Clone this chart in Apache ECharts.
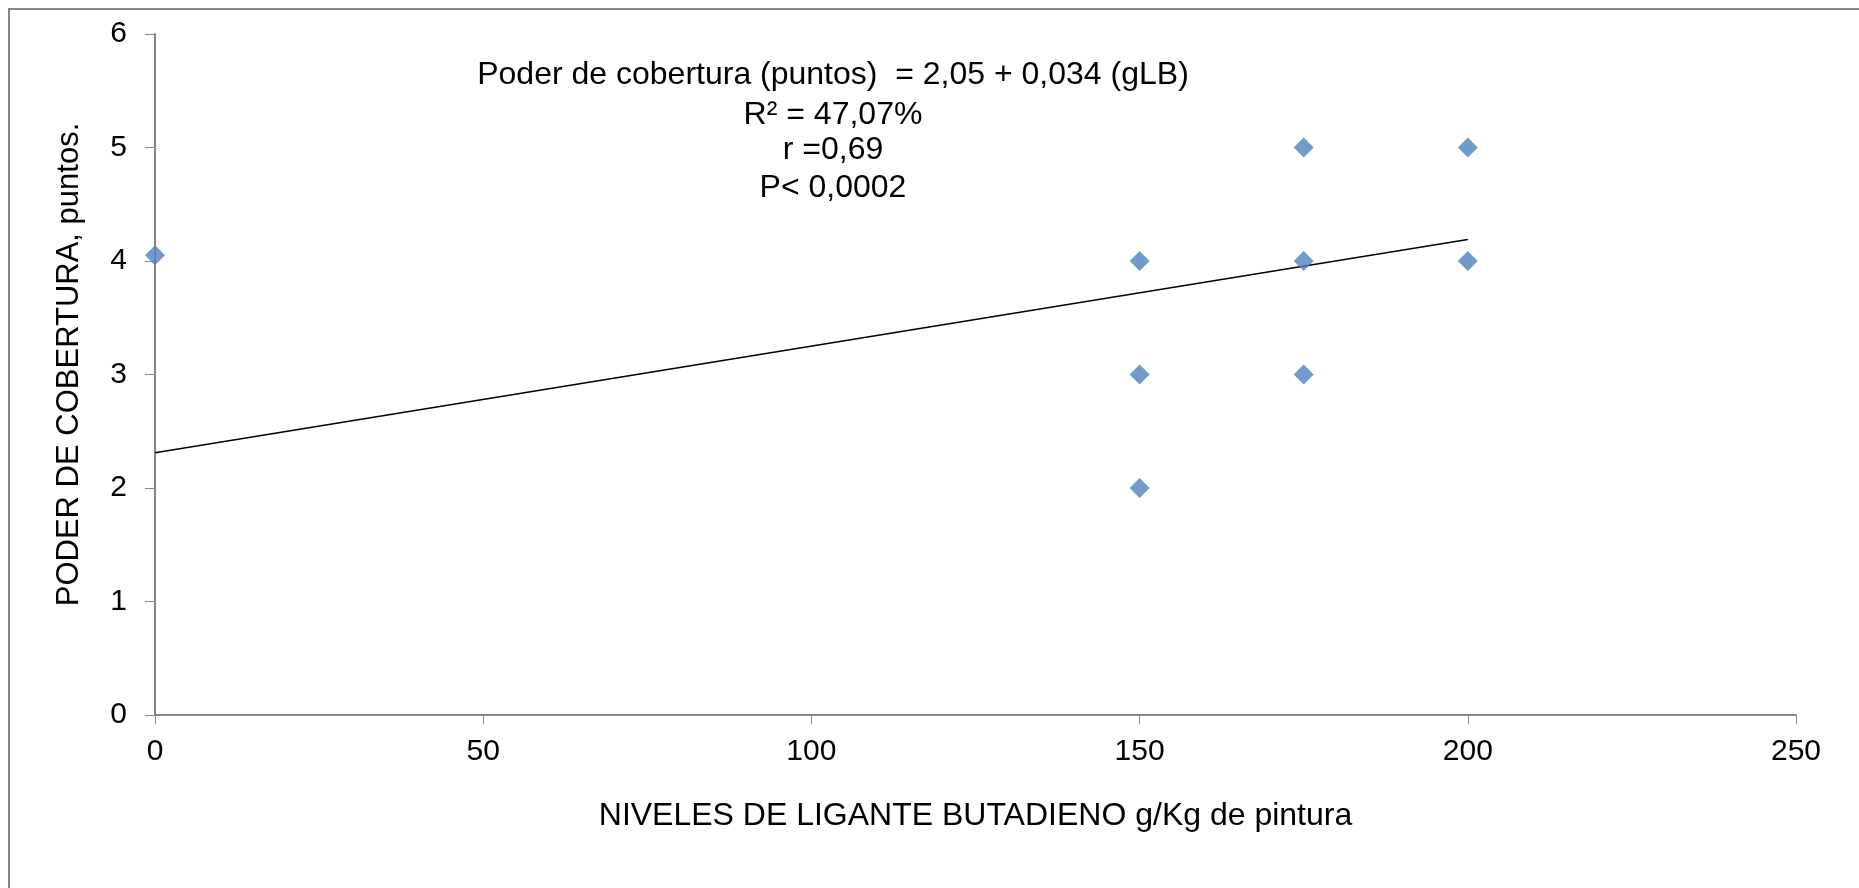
<!DOCTYPE html>
<html>
<head>
<meta charset="utf-8">
<title>Poder de cobertura</title>
<script src="https://cdn.jsdelivr.net/npm/echarts@6/dist/echarts.min.js"></script>
<style>
  html, body { margin: 0; padding: 0; background: #fff; }
  #chart { width: 1859px; height: 888px; }
</style>
</head>
<body>
<div id="chart"></div>
<script>
// Niveles de ligante butadieno (g/Kg) y poder de cobertura (puntos)
const nivelesLB = [0, 150, 150, 150, 175, 175, 175, 200, 200];
const poderCobertura = [4.05, 4, 3, 2, 5, 4, 3, 5, 4];

// Recta de tendencia: extremos en x = 0 y x = 200
const tendenciaX = [0, 200];
const tendenciaY = [2.31, 4.19];

// Texto de la ecuación de regresión
const ecuacion = [
  'Poder de cobertura (puntos)  = 2,05 + 0,034 (gLB)',
  'R² = 47,07%',
  'r =0,69',
  'P< 0,0002'
];
const ecuacionY = [75, 115, 150, 188];

const ejeXTitulo = 'NIVELES DE LIGANTE BUTADIENO g/Kg de pintura';
const ejeYTitulo = 'PODER DE COBERTURA, puntos.';

const FONT = '"Liberation Sans", Arial, Helvetica, sans-serif';
const GRIS = '#868686';

const chart = echarts.init(document.getElementById('chart'), null, { renderer: 'canvas' });

const puntos = nivelesLB.map((x, i) => [x, poderCobertura[i]]);
const tendencia = tendenciaX.map((x, i) => [x, tendenciaY[i]]);

const textos = ecuacion.map((t, i) => ({
  type: 'text',
  x: 833,
  y: ecuacionY[i],
  z: 10,
  style: {
    text: t,
    fontFamily: FONT,
    fontSize: 32,
    fill: '#000',
    align: 'center',
    verticalAlign: 'middle',
    textAlign: 'center',
    textVerticalAlign: 'middle'
  }
}));

chart.setOption({
  animation: false,
  backgroundColor: '#fff',
  grid: { left: 155, right: 63, top: 34, bottom: 173, containLabel: false },
  xAxis: {
    type: 'value',
    min: 0,
    max: 250,
    interval: 50,
    name: ejeXTitulo,
    nameLocation: 'middle',
    nameGap: 85,
    nameTextStyle: { fontFamily: FONT, fontSize: 32, color: '#000' },
    axisLine: { show: true, onZero: false, lineStyle: { color: GRIS, width: 2 } },
    axisTick: { show: true, inside: false, length: 9, lineStyle: { color: GRIS, width: 1 } },
    axisLabel: { margin: 22, fontFamily: FONT, fontSize: 30, color: '#000' },
    splitLine: { show: false }
  },
  yAxis: {
    type: 'value',
    min: 0,
    max: 6,
    interval: 1,
    name: ejeYTitulo,
    nameLocation: 'middle',
    nameGap: 70,
    nameRotate: 90,
    nameTextStyle: { fontFamily: FONT, fontSize: 31, color: '#000', padding: [0, 0, 0, 20] },
    axisLine: { show: true, onZero: false, lineStyle: { color: GRIS, width: 2 } },
    axisTick: { show: true, inside: false, length: 10, lineStyle: { color: GRIS, width: 1 } },
    axisLabel: { margin: 28, fontFamily: FONT, fontSize: 30, color: '#000' },
    splitLine: { show: false }
  },
  series: [
    {
      name: 'Tendencia',
      type: 'line',
      data: tendencia,
      symbol: 'none',
      lineStyle: { color: '#000', width: 1.5 },
      z: 2
    },
    {
      name: 'Poder de cobertura',
      type: 'scatter',
      data: puntos,
      symbol: 'diamond',
      symbolSize: 20,
      itemStyle: { color: '#4F81BD' },
      z: 3
    }
  ],
  graphic: [
    {
      type: 'rect',
      shape: { x: 9, y: 9, width: 1900, height: 1000 },
      style: { fill: 'none', stroke: GRIS, lineWidth: 2 },
      silent: true,
      z: 0
    }
  ].concat(textos)
});
</script>
</body>
</html>
